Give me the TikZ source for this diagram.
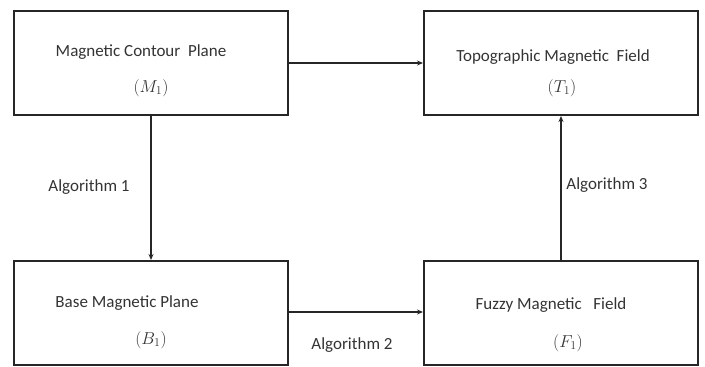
\documentclass[tikz,border=0pt]{standalone}
\usepackage{fontspec}
\setmainfont{Carlito}
\usetikzlibrary{arrows.meta}
\begin{document}
\begin{tikzpicture}[x=1pt,y=-1pt,
  box/.style={draw=black!85,line width=2pt,minimum width=274pt,minimum height=104pt,inner sep=0pt},
  txt/.style={font=\fontsize{17}{20}\selectfont,inner sep=0pt,text=black!80},
  conn/.style={draw=black!85,line width=1.6pt,-{Stealth[length=6pt,width=5pt]}}]
\useasboundingbox (0,0) rectangle (705,367);
\node[box] (M) at (151,62.5) {};
\node[box] (T) at (561,63) {};
\node[box] (B) at (151,313) {};
\node[box] (F) at (561,313) {};
\node[txt] (m1) at (141,52) {Magnetic Contour\ \ Plane};
\node[txt] (m2) at (151,88) {$(M_1)$};
\node[txt] (t1) at (553,57) {Topographic Magnetic\ \ Field};
\node[txt] (t2) at (562,88) {$(T_1)$};
\node[txt] (b1) at (127,303) {Base Magnetic Plane};
\node[txt] (b2) at (151,340) {$(B_1)$};
\node[txt] (f1) at (551,305) {Fuzzy Magnetic\ \ \ Field};
\node[txt] (f2) at (568,343) {$(F_1)$};
\draw[conn] (M.east |- 0,63) -- (T.west |- 0,63);
\draw[conn] (M) -- (B);
\draw[conn] (B.east |- 0,312) -- (F.west |- 0,312);
\draw[conn] (F) -- (T);
\node[txt] (a1) at (89,187) {Algorithm 1};
\node[txt] (a3) at (607,185) {Algorithm 3};
\node[txt] (a2) at (352,345) {Algorithm 2};
\end{tikzpicture}
\end{document}
